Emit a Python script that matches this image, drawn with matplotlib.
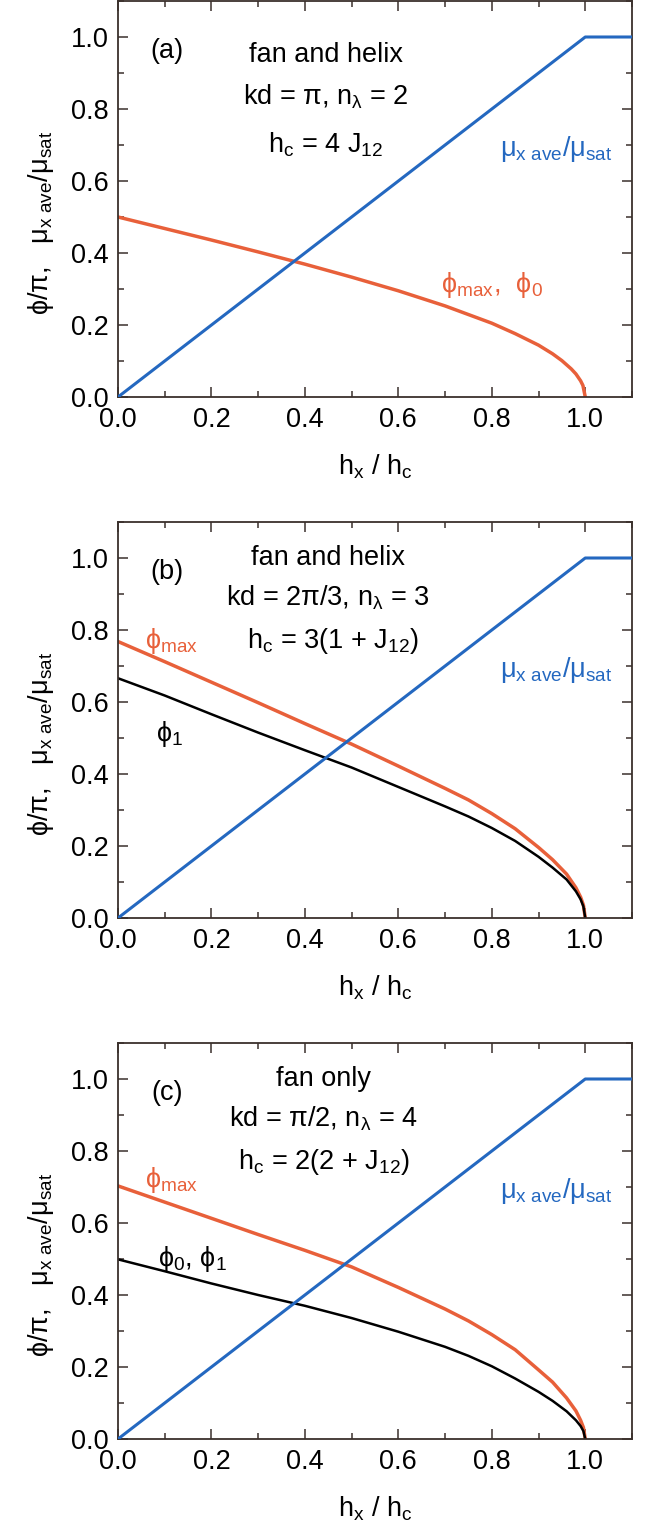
import matplotlib
matplotlib.use("Agg")
import matplotlib.pyplot as plt
from matplotlib.ticker import MultipleLocator

plt.rcParams['font.family'] = ['Liberation Sans', 'DejaVu Sans']
plt.rcParams['mathtext.fontset'] = 'custom'
plt.rcParams['mathtext.rm'] = 'Liberation Sans'
plt.rcParams['mathtext.it'] = 'Liberation Sans'
plt.rcParams['mathtext.bf'] = 'Liberation Sans:bold'

# ---------------- data ----------------
# blue: mu_x ave / mu_sat (same in all panels)
h_mu = [0.0, 0.5, 1.0, 1.1]
mu_ave = [0.0, 0.5, 1.0, 1.0]

# panel (a): phi_max, phi_0
h_a = [0.0, 0.1, 0.2, 0.3, 0.4, 0.5, 0.6, 0.7, 0.8, 0.85, 0.9, 0.93, 0.95, 0.97,
       0.98, 0.99, 0.995, 1.0]
phimax_a = [0.500, 0.468, 0.436, 0.403, 0.369, 0.333, 0.295, 0.253, 0.205, 0.176,
            0.144, 0.120, 0.101, 0.078, 0.064, 0.045, 0.032, 0.0]

# panel (b): phi_max and phi_1
h_b = [0.0, 0.1, 0.2, 0.3, 0.4, 0.5, 0.6, 0.7, 0.75, 0.8, 0.85, 0.9, 0.93, 0.96,
       0.98, 0.99, 0.996, 1.0]
phimax_b = [0.768, 0.712, 0.655, 0.598, 0.540, 0.483, 0.422, 0.360, 0.328, 0.290,
            0.248, 0.196, 0.162, 0.122, 0.084, 0.058, 0.036, 0.0]
phi1_b = [0.666, 0.618, 0.566, 0.515, 0.466, 0.418, 0.364, 0.310, 0.282, 0.250,
          0.214, 0.170, 0.140, 0.107, 0.074, 0.052, 0.032, 0.0]

# panel (c): phi_max and phi_0, phi_1
h_c = [0.0, 0.1, 0.2, 0.3, 0.4, 0.5, 0.6, 0.7, 0.75, 0.8, 0.85, 0.9, 0.93, 0.96,
       0.98, 0.99, 0.996, 1.0]
phimax_c = [0.703, 0.658, 0.613, 0.568, 0.524, 0.478, 0.421, 0.361, 0.328, 0.290,
            0.248, 0.192, 0.158, 0.114, 0.078, 0.052, 0.032, 0.0]
phi01_c = [0.499, 0.466, 0.432, 0.400, 0.370, 0.336, 0.298, 0.256, 0.231, 0.202,
           0.168, 0.131, 0.106, 0.077, 0.052, 0.036, 0.022, 0.0]

xticks = [0.0, 0.2, 0.4, 0.6, 0.8, 1.0]
yticks = [0.0, 0.2, 0.4, 0.6, 0.8, 1.0]

ORANGE = '#e8603a'
BLUE = '#2468c0'
SPINE = '#3a302c'
FS = 19.5

fig = plt.figure(figsize=(6.55, 15.33), dpi=100)
left, width, height = 118 / 655, 514 / 655, 396 / 1533
bottoms = [1 - 397 / 1533, 1 - 918 / 1533, 1 - 1439 / 1533]
axes = [fig.add_axes([left, b, width, height]) for b in bottoms]

for ax in axes:
    ax.set_xlim(0, 1.1)
    ax.set_ylim(0, 1.1)
    ax.set_xticks(xticks)
    ax.set_yticks(yticks)
    ax.set_xticklabels([f'{t:.1f}' for t in xticks])
    ax.set_yticklabels([f'{t:.1f}' for t in yticks])
    ax.xaxis.set_minor_locator(MultipleLocator(0.1))
    ax.yaxis.set_minor_locator(MultipleLocator(0.1))
    ax.tick_params(which='both', direction='in', top=True, right=True,
                   color=SPINE, width=1.1)
    ax.tick_params(which='major', length=7, labelsize=FS, pad=7)
    ax.tick_params(which='minor', length=4)
    for s in ax.spines.values():
        s.set_color(SPINE)
        s.set_linewidth(1.3)
    ax.set_xlabel(r'h$_{\rm x}$ / h$_{\rm c}$', fontsize=FS, va='center')
    ax.xaxis.set_label_coords(0.5, -0.175)
    ax.set_ylabel(r'ϕ/π,   μ$_{\rm x\ ave}$/μ$_{\rm sat}$', fontsize=FS, va='center')
    ax.yaxis.set_label_coords(-0.15, 0.44)
    ax.plot(h_mu, mu_ave, color=BLUE, lw=2.2, zorder=3)
    ax.text(0.937, 0.69, r'μ$_{\rm x\ ave}$/μ$_{\rm sat}$', color=BLUE, fontsize=FS,
            ha='center', va='center')

ax = axes[0]
ax.plot(h_a, phimax_a, color=ORANGE, lw=2.5)
ax.text(0.105, 0.96, '(a)', fontsize=FS, ha='center', va='center')
ax.text(0.445, 0.95, 'fan and helix', fontsize=FS, ha='center', va='center')
ax.text(0.445, 0.835, r'kd = π, n$_{\rm λ}$ = 2', fontsize=FS, ha='center', va='center')
ax.text(0.445, 0.70, r'h$_{\rm c}$ = 4 J$_{\rm 12}$', fontsize=FS, ha='center', va='center')
ax.text(0.80, 0.31, r'ϕ$_{\rm max}$,  ϕ$_{\rm 0}$', color=ORANGE, fontsize=FS,
        ha='center', va='center')

ax = axes[1]
ax.plot(h_b, phimax_b, color=ORANGE, lw=2.5)
ax.plot(h_b, phi1_b, color='black', lw=1.8)
ax.text(0.105, 0.96, '(b)', fontsize=FS, ha='center', va='center')
ax.text(0.45, 1.0, 'fan and helix', fontsize=FS, ha='center', va='center')
ax.text(0.45, 0.89, r'kd = 2π/3, n$_{\rm λ}$ = 3', fontsize=FS, ha='center', va='center')
ax.text(0.46, 0.77, r'h$_{\rm c}$ = 3(1 + J$_{\rm 12}$)', fontsize=FS, ha='center', va='center')
ax.text(0.115, 0.77, r'ϕ$_{\rm max}$', color=ORANGE, fontsize=FS, ha='center', va='center')
ax.text(0.11, 0.51, r'ϕ$_{\rm 1}$', color='black', fontsize=FS, ha='center', va='center')

ax = axes[2]
ax.plot(h_c, phimax_c, color=ORANGE, lw=2.5)
ax.plot(h_c, phi01_c, color='black', lw=1.8)
ax.text(0.105, 0.96, '(c)', fontsize=FS, ha='center', va='center')
ax.text(0.44, 1.0, 'fan only', fontsize=FS, ha='center', va='center')
ax.text(0.44, 0.89, r'kd = π/2, n$_{\rm λ}$ = 4', fontsize=FS, ha='center', va='center')
ax.text(0.44, 0.77, r'h$_{\rm c}$ = 2(2 + J$_{\rm 12}$)', fontsize=FS, ha='center', va='center')
ax.text(0.115, 0.72, r'ϕ$_{\rm max}$', color=ORANGE, fontsize=FS, ha='center', va='center')
ax.text(0.16, 0.50, r'ϕ$_{\rm 0}$, ϕ$_{\rm 1}$', color='black', fontsize=FS,
        ha='center', va='center')

fig.savefig('out.png', dpi=100, facecolor='white')
